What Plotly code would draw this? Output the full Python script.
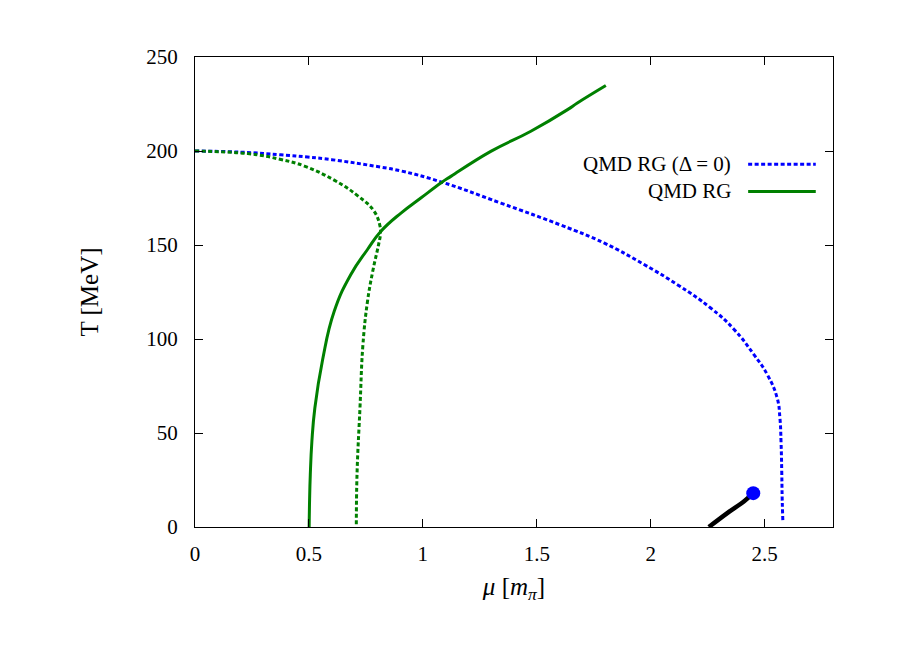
import plotly.graph_objects as go

# Blue dashed: QMD RG (Delta = 0)
mu_blue = [0, 0.2, 0.377, 0.494, 0.6, 0.816, 0.904, 1.079, 1.342, 1.605, 1.795, 1.971, 2.117, 2.263, 2.365, 2.453, 2.512, 2.555, 2.567, 2.572, 2.575, 2.577, 2.58]
T_blue = [200, 199.4, 198.0, 196.8, 195.4, 191.4, 189.4, 183.6, 172.3, 160.6, 151.1, 139.6, 128.9, 116.5, 105.2, 91.7, 81, 68.6, 58, 45, 30, 15, 3]

# Green solid: QMD RG
mu_green = [0.501, 0.503, 0.506, 0.513, 0.526, 0.56, 0.611, 0.684, 0.757, 0.816, 0.904, 0.991, 1.079, 1.123, 1.298, 1.474, 1.635, 1.678, 1.803]
T_green = [0, 15, 27.9, 45.6, 63.3, 89, 114.7, 134.3, 147.6, 157.3, 167, 175, 183, 186.5, 199.8, 210.5, 222, 225.5, 234.8]

# Green dashed
mu_gdash = [0, 0.231, 0.377, 0.48, 0.611, 0.713, 0.786, 0.812, 0.814, 0.807, 0.78, 0.757, 0.737, 0.724, 0.711, 0.708]
T_gdash = [200, 198.6, 195.5, 192, 184.5, 176.3, 168, 160, 156, 151, 136, 120, 97, 63.3, 27.9, 0]

# Black solid line ending in critical point
mu_black = [2.255, 2.336, 2.41, 2.45]
T_black = [0, 7.4, 13.7, 18]
mu_cep = [2.45]
T_cep = [18]

FONT = "Times New Roman, Liberation Serif, serif"
DASH = "4px,2.5px"
fig = go.Figure()
fig.add_trace(go.Scatter(x=mu_blue, y=T_blue, mode="lines", name="QMD RG (Δ = 0)",
                         line=dict(color="#0000ff", width=3, dash=DASH, shape="spline", smoothing=1.3),
                         showlegend=False))
fig.add_trace(go.Scatter(x=mu_gdash, y=T_gdash, mode="lines",
                         line=dict(color="#008000", width=3, dash=DASH, shape="spline", smoothing=1.2),
                         showlegend=False))
fig.add_trace(go.Scatter(x=mu_green, y=T_green, mode="lines", name="QMD RG",
                         line=dict(color="#008000", width=3, shape="spline", smoothing=1.3),
                         showlegend=False))
fig.add_trace(go.Scatter(x=mu_black, y=T_black, mode="lines",
                         line=dict(color="black", width=4.5, shape="spline"), showlegend=False))
fig.add_trace(go.Scatter(x=mu_cep, y=T_cep, mode="markers",
                         marker=dict(color="#0000ff", size=14), showlegend=False))

# legend drawn manually (text right, sample on right, gnuplot style)
legend_items = [("QMD RG (Δ = 0)", "#0000ff", DASH, 0.772),
                ("QMD RG", "#008000", "solid", 0.714)]
for label, col, dash, yy in legend_items:
    fig.add_annotation(x=0.843, y=yy, xref="paper", yref="paper", text=label,
                       showarrow=False, xanchor="right", yanchor="middle",
                       font=dict(family=FONT, size=21, color="black"))
    fig.add_shape(type="line", xref="paper", yref="paper", x0=0.867, x1=0.973, y0=yy, y1=yy,
                  line=dict(color=col, width=3, dash=dash))

fig.update_layout(
    width=906, height=639,
    margin=dict(l=187, r=81, t=49, b=120),
    paper_bgcolor="white", plot_bgcolor="white",
    font=dict(family=FONT, size=21, color="black"),
)
fig.update_xaxes(range=[0, 2.8], dtick=0.5, tick0=0, ticks="inside", ticklen=8, tickcolor="black",
                 showline=True, linecolor="black", linewidth=1, mirror="allticks",
                 showgrid=False, zeroline=False, ticklabelstandoff=8, automargin=False,
                 title=dict(text="<i>μ</i> [<i>m</i><sub><i>π</i></sub>]", standoff=12))
fig.update_yaxes(range=[0, 250], dtick=50, tick0=0, ticks="inside", ticklen=8, tickcolor="black",
                 showline=True, linecolor="black", linewidth=1, mirror="allticks",
                 showgrid=False, zeroline=False, ticklabelstandoff=12, automargin=False,
                 title=dict(text="T [MeV]", standoff=40))
fig.write_html("out.html")
